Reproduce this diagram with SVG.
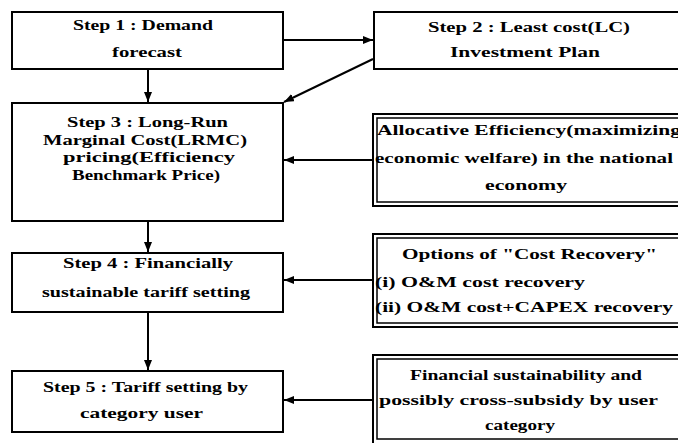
<svg xmlns="http://www.w3.org/2000/svg" width="678" height="443" viewBox="0 0 678 443">
<style>
.box{fill:#fff;stroke:#000;stroke-width:2}
.outer{fill:#fff;stroke:#000;stroke-width:2}
.inner{fill:none;stroke:#000;stroke-width:1.5}
text{font-family:"Liberation Serif","DejaVu Serif",serif;font-size:15px;font-weight:bold;fill:#000}
.m{text-anchor:middle}
.s{text-anchor:start}
.c{stroke:#000;stroke-width:2;fill:none}
</style>
<defs>
<marker id="ah" viewBox="0 0 10 8" refX="10" refY="4" markerWidth="10" markerHeight="8" markerUnits="userSpaceOnUse" orient="auto">
<path d="M0,0 L10,4 L0,8 Z" fill="#000"/>
</marker>
</defs>
<rect width="678" height="443" fill="#fff"/>
<g id="connectors">
<line class="c" x1="284" y1="40" x2="373" y2="40" marker-end="url(#ah)"/>
<line class="c" x1="373" y1="59" x2="284" y2="102" marker-end="url(#ah)"/>
<line class="c" x1="148" y1="69" x2="148" y2="102" marker-end="url(#ah)"/>
<line class="c" x1="148" y1="222" x2="148" y2="252" marker-end="url(#ah)"/>
<line class="c" x1="148" y1="312" x2="148" y2="370" marker-end="url(#ah)"/>
<line class="c" x1="373" y1="160" x2="284" y2="160" marker-end="url(#ah)"/>
<line class="c" x1="373" y1="280" x2="284" y2="280" marker-end="url(#ah)"/>
<line class="c" x1="373" y1="400" x2="284" y2="400" marker-end="url(#ah)"/>
</g>
<g id="step1">
<rect class="box" x="12" y="12" width="271" height="57"/>
<text class="m" x="143" y="30" textLength="140" lengthAdjust="spacingAndGlyphs">Step 1 : Demand</text>
<text class="m" x="147" y="57" textLength="70" lengthAdjust="spacingAndGlyphs">forecast</text>
</g>
<g id="step2">
<rect class="box" x="374" y="12" width="310" height="57"/>
<text class="m" x="529" y="32" textLength="202" lengthAdjust="spacingAndGlyphs">Step 2 : Least cost(LC)</text>
<text class="m" x="525" y="57" textLength="150" lengthAdjust="spacingAndGlyphs">Investment Plan</text>
</g>
<g id="step3">
<rect class="box" x="12" y="103" width="271" height="118"/>
<text class="m" x="147.5" y="127" textLength="161" lengthAdjust="spacingAndGlyphs">Step 3 : Long-Run</text>
<text class="m" x="145" y="145" textLength="204" lengthAdjust="spacingAndGlyphs">Marginal Cost(LRMC)</text>
<text class="m" x="149" y="162" textLength="172" lengthAdjust="spacingAndGlyphs">pricing(Efficiency</text>
<text class="m" x="146" y="180" textLength="148" lengthAdjust="spacingAndGlyphs">Benchmark Price)</text>
</g>
<g id="step4">
<rect class="box" x="12" y="253" width="271" height="59"/>
<text class="m" x="148" y="268" textLength="170" lengthAdjust="spacingAndGlyphs">Step 4 : Financially</text>
<text class="m" x="146" y="297" textLength="208" lengthAdjust="spacingAndGlyphs">sustainable tariff setting</text>
</g>
<g id="step5">
<rect class="box" x="12" y="371" width="271" height="61"/>
<text class="m" x="145.5" y="392" textLength="205" lengthAdjust="spacingAndGlyphs">Step 5 : Tariff setting by</text>
<text class="m" x="141.5" y="418" textLength="123" lengthAdjust="spacingAndGlyphs">category user</text>
</g>
<g id="allocative">
<rect class="outer" x="373" y="114" width="312" height="92"/>
<rect class="inner" x="377" y="118" width="304" height="84"/>
<text class="s" x="377" y="135" textLength="304" lengthAdjust="spacingAndGlyphs">Allocative Efficiency(maximizing</text>
<text class="s" x="375" y="163" textLength="298" lengthAdjust="spacingAndGlyphs">economic welfare) in the national</text>
<text class="m" x="526" y="190" textLength="82" lengthAdjust="spacingAndGlyphs">economy</text>
</g>
<g id="options">
<rect class="outer" x="373" y="234" width="312" height="93"/>
<rect class="inner" x="377" y="238" width="304" height="85"/>
<text class="m" x="529.5" y="259" textLength="255" lengthAdjust="spacingAndGlyphs">Options of "Cost Recovery"</text>
<text class="s" x="375" y="287" textLength="210" lengthAdjust="spacingAndGlyphs">(i) O&amp;M cost recovery</text>
<text class="s" x="375" y="312" textLength="298" lengthAdjust="spacingAndGlyphs">(ii) O&amp;M cost+CAPEX recovery</text>
</g>
<g id="financial">
<rect class="outer" x="373" y="355" width="312" height="95"/>
<rect class="inner" x="377" y="359" width="304" height="80"/>
<text class="m" x="526" y="380" textLength="232" lengthAdjust="spacingAndGlyphs">Financial sustainability and</text>
<text class="m" x="518.5" y="405" textLength="279" lengthAdjust="spacingAndGlyphs">possibly cross-subsidy by user</text>
<text class="m" x="520" y="430" textLength="70" lengthAdjust="spacingAndGlyphs">category</text>
</g>
</svg>
